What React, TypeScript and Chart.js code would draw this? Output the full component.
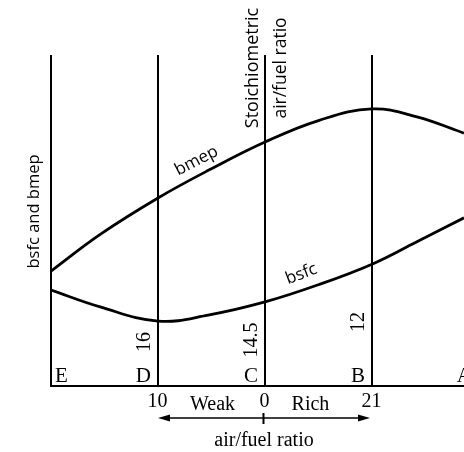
import React, { useEffect, useRef } from "react";
import { Chart, registerables } from "chart.js";

Chart.register(...registerables);

// Positions of the vertical reference lines (E, D, C, B, A)
const linePositions = [0, 1, 2, 3, 4];
const lineLetters = ["E", "D", "C", "B", "A"];
// air/fuel ratios written beside lines D, C, B
const ratioLabels = ["16", "14.5", "12"];
// % weak / rich labels under lines D, C, B
const mixtureTicks = ["10", "0", "21"];

// Curve samples (x in line-position units, y in relative units 0–100)
const curveX = [0, 0.46, 1, 1.48, 2, 2.5, 3, 3.42, 3.86];
const bmep = [34.7, 45.8, 56.8, 65.3, 73.7, 80.2, 83.7, 81.3, 76.4];
const bsfc = [29.0, 23.9, 19.6, 21.5, 25.4, 30.6, 36.8, 43.6, 50.8];

const X_MAX = 3.86;

const SERIF = '"Liberation Serif", "Times New Roman", serif';
const SANS = '"Open Sans", "DejaVu Sans", sans-serif';

function drawText(
  ctx: CanvasRenderingContext2D,
  text: string,
  x: number,
  y: number,
  font: string,
  align: CanvasTextAlign,
  baseline: CanvasTextBaseline,
  angle = 0
) {
  ctx.save();
  ctx.translate(x, y);
  ctx.rotate(angle);
  ctx.font = font;
  ctx.textAlign = align;
  ctx.textBaseline = baseline;
  ctx.fillStyle = "#000";
  ctx.fillText(text, 0, 0);
  ctx.restore();
}

const annotations = {
  id: "annotations",
  afterDraw(chart: any) {
    const ctx: CanvasRenderingContext2D = chart.ctx;
    const xs = chart.scales.x;
    const ys = chart.scales.y;
    const bottom = chart.chartArea.bottom;
    const top = chart.chartArea.top;
    const px = (v: number) => xs.getPixelForValue(v);
    const serif = "20px " + SERIF;
    const letterFont = "21px " + SERIF;

    // letters at the foot of each line
    linePositions.forEach((p, i) => {
      if (i === 0) {
        drawText(ctx, lineLetters[i], px(p) + 4, bottom - 4, letterFont, "left", "alphabetic");
      } else {
        drawText(ctx, lineLetters[i], px(p) - 7, bottom - 4, letterFont, "right", "alphabetic");
      }
    });

    // rotated air/fuel ratios beside D, C, B
    const ratioY = [bottom - 44, bottom - 46, bottom - 64];
    ratioLabels.forEach((t, i) => {
      drawText(ctx, t, px(linePositions[i + 1]) - 8, ratioY[i], serif, "center", "alphabetic", -Math.PI / 2);
    });

    // under-axis numbers
    mixtureTicks.forEach((t, i) => {
      drawText(ctx, t, px(linePositions[i + 1]) - 0.5, bottom + 21, serif, "center", "alphabetic");
    });
    drawText(ctx, "Weak", (px(1) + px(2)) / 2 + 1, bottom + 24, serif, "center", "alphabetic");
    drawText(ctx, "Rich", (px(2) + px(3)) / 2 - 8, bottom + 24, serif, "center", "alphabetic");
    drawText(ctx, "air/fuel ratio", px(2) - 1, bottom + 60, "20px " + SERIF, "center", "alphabetic");

    // double arrow
    const ay = bottom + 32;
    const x1 = px(1);
    const x2 = px(3) - 2;
    ctx.save();
    ctx.strokeStyle = "#000";
    ctx.fillStyle = "#000";
    ctx.lineWidth = 1.5;
    ctx.beginPath();
    ctx.moveTo(x1 + 4, ay);
    ctx.lineTo(x2 - 4, ay);
    ctx.stroke();
    ctx.beginPath();
    ctx.moveTo(x1, ay);
    ctx.lineTo(x1 + 12, ay - 3.5);
    ctx.lineTo(x1 + 12, ay + 3.5);
    ctx.closePath();
    ctx.fill();
    ctx.beginPath();
    ctx.moveTo(x2, ay);
    ctx.lineTo(x2 - 12, ay - 3.5);
    ctx.lineTo(x2 - 12, ay + 3.5);
    ctx.closePath();
    ctx.fill();
    ctx.lineWidth = 2;
    ctx.beginPath();
    ctx.moveTo(px(2) - 1.5, ay - 5);
    ctx.lineTo(px(2) - 1.5, ay + 6);
    ctx.stroke();
    ctx.restore();

    // curve labels
    drawText(ctx, "bmep", px(1.36), ys.getPixelForValue(68), "17px " + SANS, "center", "middle", -0.48);
    drawText(ctx, "bsfc", px(2.34), ys.getPixelForValue(33.8), "17px " + SANS, "center", "middle", -0.36);

    // y-axis label
    drawText(ctx, "bsfc and bmep", 39, (top + bottom) / 2 - 9, "16.5px " + SANS, "center", "alphabetic", -Math.PI / 2);

    // stoichiometric label
    drawText(ctx, "Stoichiometric", px(2) - 7, 68, "18px " + SANS, "center", "alphabetic", -Math.PI / 2);
    drawText(ctx, "air/fuel ratio", px(2) + 21, 68, "17.5px " + SANS, "center", "alphabetic", -Math.PI / 2);
  },
};

export default function App() {
  const ref = useRef<HTMLCanvasElement | null>(null);

  useEffect(() => {
    if (!ref.current) return;
    const chart = new Chart(ref.current, {
      type: "line",
      data: {
        datasets: [
          {
            label: "bmep",
            data: curveX.map((x, i) => ({ x, y: bmep[i] })),
            borderColor: "#000",
            borderWidth: 2.8,
            pointRadius: 0,
            tension: 0.4,
            fill: false,
          },
          {
            label: "bsfc",
            data: curveX.map((x, i) => ({ x, y: bsfc[i] })),
            borderColor: "#000",
            borderWidth: 2.8,
            pointRadius: 0,
            tension: 0.4,
            fill: false,
          },
        ],
      },
      options: {
        animation: false,
        responsive: false,
        devicePixelRatio: 1,
        layout: { padding: { left: 51, top: 55, right: 0, bottom: 66 } },
        plugins: { legend: { display: false }, tooltip: { enabled: false } },
        scales: {
          x: {
            type: "linear",
            min: 0,
            max: X_MAX,
            afterBuildTicks: (scale: any) => {
              scale.ticks = linePositions.filter((p) => p <= X_MAX).map((v) => ({ value: v }));
            },
            ticks: { display: false },
            grid: { display: true, color: "#000", lineWidth: 2, drawTicks: false },
            border: { display: true, color: "#000", width: 2 },
          },
          y: {
            type: "linear",
            min: 0,
            max: 100,
            display: false,
          },
        },
      },
      plugins: [annotations],
    });
    return () => chart.destroy();
  }, []);

  return (
    <div style={{ position: "fixed", left: 0, top: 0, width: 464, height: 452, background: "#fff" }}>
      <canvas ref={ref} width={464} height={452} />
    </div>
  );
}
